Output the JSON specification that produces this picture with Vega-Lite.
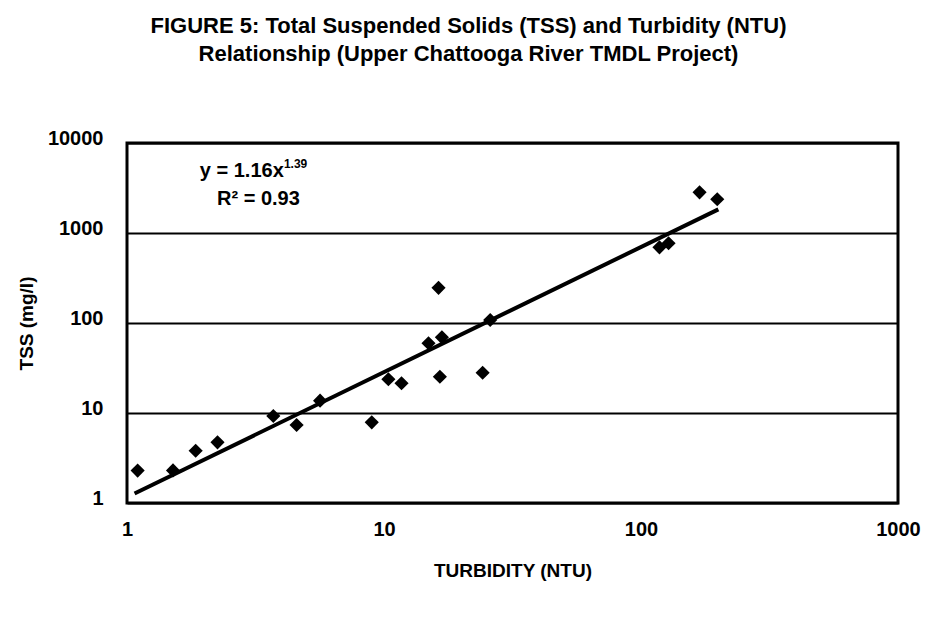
{
  "$schema": "https://vega.github.io/schema/vega-lite/v6.json",
  "autosize": "none",
  "width": 771,
  "height": 360,
  "padding": {"left": 127, "top": 143, "right": 39, "bottom": 121},
  "background": "white",
  "config": {
    "font": "Liberation Sans",
    "view": {"stroke": "black", "strokeWidth": 3}
  },
  "title": {
    "text": ["FIGURE 5:  Total Suspended Solids (TSS) and Turbidity (NTU)", "Relationship (Upper Chattooga River TMDL Project)"],
    "font": "Liberation Sans",
    "fontSize": 22,
    "fontWeight": "bold",
    "color": "black",
    "anchor": "middle",
    "dx": -44,
    "offset": 62,
    "lineHeight": 28
  },
  "datasets": {
    "obs": [
      {"turbidity": 1.10, "tss": 2.29},
      {"turbidity": 1.51, "tss": 2.3},
      {"turbidity": 1.85, "tss": 3.81},
      {"turbidity": 2.25, "tss": 4.72},
      {"turbidity": 3.71, "tss": 9.26},
      {"turbidity": 4.57, "tss": 7.36},
      {"turbidity": 5.64, "tss": 13.7},
      {"turbidity": 8.96, "tss": 7.88},
      {"turbidity": 10.4, "tss": 23.7},
      {"turbidity": 11.7, "tss": 21.4},
      {"turbidity": 14.9, "tss": 59.5},
      {"turbidity": 16.3, "tss": 246},
      {"turbidity": 16.5, "tss": 25.3},
      {"turbidity": 16.8, "tss": 69.3},
      {"turbidity": 24.2, "tss": 28.0},
      {"turbidity": 25.9, "tss": 108},
      {"turbidity": 118, "tss": 693},
      {"turbidity": 128, "tss": 769},
      {"turbidity": 169, "tss": 2830},
      {"turbidity": 198, "tss": 2370}
    ],
    "fit": [
      {"turbidity": 1.07, "tss": 1.274},
      {"turbidity": 200, "tss": 1830}
    ],
    "eq": [
      {"turbidity": 1.92, "tss": 4190, "label": "y = 1.16x"},
      {"turbidity": 2.24, "tss": 2047, "label": "R² = 0.93"}
    ],
    "sup": [
      {"turbidity": 4.08, "tss": 5275, "label": "1.39"}
    ]
  },
  "encoding": {
    "x": {
      "field": "turbidity",
      "type": "quantitative",
      "scale": {"type": "log", "domain": [1, 1000], "nice": false},
      "axis": {
        "title": "TURBIDITY (NTU)",
        "values": [1, 10, 100, 1000],
        "format": "d",
        "grid": false,
        "ticks": false,
        "domain": false,
        "labelFlush": false,
        "labelFont": "Liberation Sans",
        "labelFontSize": 20,
        "labelFontWeight": "bold",
        "labelColor": "black",
        "labelPadding": 16,
        "titleFont": "Liberation Sans",
        "titleFontSize": 19,
        "titleFontWeight": "bold",
        "titleColor": "black",
        "titlePadding": 22
      }
    },
    "y": {
      "field": "tss",
      "type": "quantitative",
      "scale": {"type": "log", "domain": [1, 10000], "nice": false},
      "axis": {
        "title": "TSS (mg/l)",
        "values": [1, 10, 100, 1000, 10000],
        "format": "d",
        "grid": true,
        "gridColor": "black",
        "gridWidth": 2,
        "gridOpacity": 1,
        "ticks": false,
        "domain": false,
        "labelFlush": false,
        "labelFont": "Liberation Sans",
        "labelFontSize": 20,
        "labelFontWeight": "bold",
        "labelColor": "black",
        "labelPadding": 24,
        "labelOffset": -5,
        "titleFont": "Liberation Sans",
        "titleFontSize": 19,
        "titleFontWeight": "bold",
        "titleColor": "black",
        "titlePadding": 11
      }
    }
  },
  "layer": [
    {
      "data": {"name": "fit"},
      "mark": {"type": "line", "color": "black", "strokeWidth": 4}
    },
    {
      "data": {"name": "obs"},
      "mark": {"type": "point", "shape": "diamond", "filled": true, "color": "black", "opacity": 1, "size": 200}
    },
    {
      "data": {"name": "eq"},
      "mark": {"type": "text", "align": "left", "baseline": "alphabetic", "font": "Liberation Sans", "fontSize": 20, "fontWeight": "bold", "color": "black"},
      "encoding": {"text": {"field": "label"}}
    },
    {
      "data": {"name": "sup"},
      "mark": {"type": "text", "align": "left", "baseline": "alphabetic", "font": "Liberation Sans", "fontSize": 12, "fontWeight": "bold", "color": "black"},
      "encoding": {"text": {"field": "label"}}
    }
  ]
}
